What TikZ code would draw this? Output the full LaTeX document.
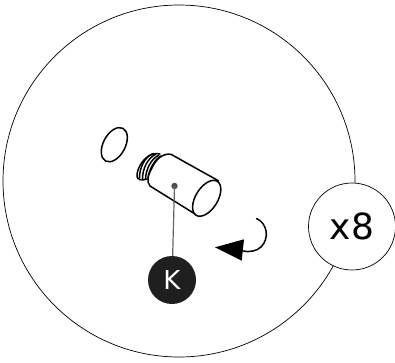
\documentclass[tikz,border=0pt]{standalone}
\usepackage{fontspec}
\setmainfont{DejaVu Sans}
\tikzset{
  px/.style={x=1pt,y=-1pt},
  thin line/.style={draw=black,line width=0.7pt},
  part/.style={draw=black,line width=1.5pt,line join=round,line cap=round},
  callout/.style={circle,fill=white,draw=black,line width=0.7pt,inner sep=0pt,minimum size=87pt,font=\fontsize{36}{36}\selectfont},
  badge/.style={circle,fill=black!88,text=white,inner sep=0pt,minimum size=48pt,font=\fontsize{26}{26}\selectfont}
}
\begin{document}
\begin{tikzpicture}[px]
\useasboundingbox (0,0) rectangle (395,362);
\draw[thin line] (179,181) circle[radius=176];
\node[callout] (count) at (352,226.5) {x8};
% o-ring
\draw[part] (114.3,144.7) [rotate around={62:(114.3,144.7)}] ellipse[x radius=18.5,y radius=11];
% thread
\draw[part,fill=white] (160,154) .. controls (150,151) and (139,162) .. (137,174) .. controls (136,180) and (141,181) .. (147,179);
\draw[part] (153,153.5) .. controls (145,157) and (139.5,167) .. (139.5,178);
\draw[part] (156,154) .. controls (148,158) and (142.5,168) .. (142.5,179);
\draw[part] (159,155) .. controls (151,159) and (146,169) .. (145.5,179);
\draw[part] (161,156) .. controls (154,160) and (149,170) .. (148,178);
% body
\draw[part,fill=white] (171,154.3) -- (218.3,180.7) -- (196.7,215) -- (150,186)
  .. controls (146,181) and (148,175) .. (152,168) .. controls (156,159) and (163,153) .. (171,154.3) -- cycle;
\draw[part,fill=white] (206.7,198.3) [rotate around={58:(206.7,198.3)}] ellipse[x radius=20,y radius=11];
% marker
\coordinate (port) at (174.5,186);
\fill[black!70] (port) circle[radius=3.2];
\node[badge] (k) at (172,280) {K};
\draw[draw=black!60,line width=1.2pt] (port) -- (k);
% arrow
\coordinate (arcstart) at (256.5,218.5);
\coordinate (arcend) at (243,251);
\draw[line width=1.5pt,line cap=round] (arcstart) .. controls (267,223) and (270,238) .. (261,247) .. controls (257,251) and (249,252.5) .. (arcend);
\fill[black] (215,247.3) -- (244,239.3) -- (241.7,260.7) -- cycle;
\end{tikzpicture}
\end{document}
